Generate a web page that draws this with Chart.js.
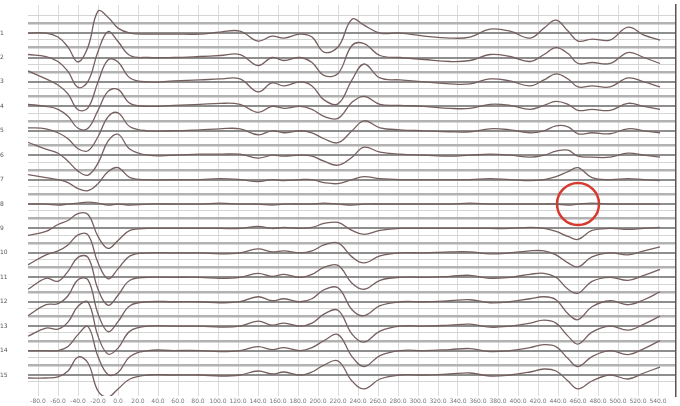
<!DOCTYPE html>
<html><head><meta charset="utf-8">
<script src="https://cdn.jsdelivr.net/npm/chart.js@4/dist/chart.umd.min.js"></script>
<style>html,body{margin:0;padding:0;background:#fff}#wrap{width:680px;height:406px}</style>
</head><body><div id="wrap"><canvas id="c"></canvas></div>
<script>
// sample times (ms)
const times = [-90,-72,-60,-50,-40,-30,-20,-10,0,12,30,56,82,102,122,140,154,166,182,194,206,220,234,246,262,282,306,332,352,372,392,412,426,438,450,460,474,492,510,526,542];
// x tick labels (ms)
const xTickValues = [-80,-60,-40,-20,0,20,40,60,80,100,120,140,160,180,200,220,240,260,280,300,320,340,360,380,400,420,440,460,480,500,520,540];
// channel labels (top to bottom)
const channelNames = ['1','2','3','4','5','6','7','8','9','10','11','12','13','14','15'];
// deflections (µV-like units, up positive)
const ch1  = [0,0,-4,-14,-29,-14,22,16,5,0,-1,-1,-1,1,2,-8,-3,-5,-1,-4,-19,-14,14,8,0,0,-3,-5,-4,4,2,-5,5,13,2,-8,-6,-7,6,-2,-7];
const ch2  = [3,1,-4,-14,-30,-24,6,26,16,2,0,0,1,2,3,-8,0,-3,0,-5,-18,-16,12,14,2,0,-2,-4,-3,3,1,-4,3,10,4,-6,-5,-6,5,0,-6];
const ch3  = [11,3,-3,-12,-28,-26,0,22,20,4,0,1,2,3,3,-10,-1,-4,0,-4,-18,-22,2,18,4,2,0,-2,-2,3,1,-4,2,8,3,-5,-4,-5,4,0,-5];
const ch4  = [2,0,-3,-10,-22,-22,-4,15,17,3,0,1,2,3,2,-6,0,-2,0,-3,-10,-12,4,10,2,1,0,-2,-2,2,1,-3,1,5,2,-4,-3,-4,3,0,-3];
const ch5  = [3,2,-2,-8,-18,-20,-6,14,18,4,0,0,1,2,2,-4,0,-2,0,-2,-8,-12,0,10,3,1,0,-1,-1,2,1,-2,0,5,4,-3,-2,-3,2,0,-2];
const ch6  = [13,6,2,-6,-16,-20,-8,14,21,6,0,0,1,1,1,-3,0,-1,0,-1,-6,-10,-2,8,3,1,0,-1,0,1,0,-2,0,4,5,-1,-2,-2,2,0,-2];
const ch7  = [5,2,0,-3,-9,-11,-4,8,12,2,0,0,0,1,0,-2,0,-1,0,0,-3,-4,0,3,1,0,0,0,0,1,0,-1,0,3,8,12,2,0,1,0,-1];
const ch8  = [0,0,-1,0,1,2,1,-1,0,-1,0,0,0,1,0,0,-1,0,0,0,1,0,-1,0,0,0,0,0,1,0,0,0,0,0,-1,0,1,0,0,0,0];
const ch9  = [-7,-3,4,8,15,14,-8,-20,-12,-2,0,0,0,0,0,2,0,1,0,1,5,6,-2,-6,-2,0,0,0,0,0,0,1,0,-3,-8,-11,-2,0,-1,0,1];
const ch10 = [-12,-2,2,8,18,18,-10,-26,-16,-3,0,0,0,-1,0,4,1,2,0,2,8,10,-4,-10,-3,0,0,1,1,-1,0,2,2,-2,-10,-14,-4,0,-2,2,6];
const ch11 = [-12,-1,-4,6,20,20,-12,-28,-18,-3,0,0,0,-1,0,4,1,3,0,3,10,12,-6,-12,-3,0,0,1,2,-1,0,3,4,0,-12,-16,-4,0,-3,2,8];
const ch12 = [-14,-3,-2,6,22,22,-12,-30,-20,-4,0,0,0,-1,0,5,1,3,0,3,12,14,-8,-14,-4,0,0,1,2,-1,0,3,5,2,-12,-18,-5,1,-3,2,10];
const ch13 = [-10,-2,-3,4,20,24,-10,-28,-22,-5,0,0,0,-1,0,5,1,3,0,3,12,16,-8,-16,-5,0,0,1,2,-1,0,3,6,3,-10,-18,-6,0,-4,2,10];
const ch14 = [0,0,0,4,16,24,-6,-24,-22,-6,0,0,0,-1,0,4,1,3,0,3,10,16,-6,-16,-5,0,0,1,2,-1,0,3,6,4,-8,-16,-6,0,-4,2,10];
const ch15 = [-3,-3,-2,4,18,12,-16,-22,-14,-4,0,0,0,-1,0,4,1,3,0,3,10,14,-6,-14,-4,0,0,1,2,-1,0,3,6,4,-6,-14,-6,0,-4,2,8];
// highlighted spot (time ms, channel number)
const highlightTimes = [460];
const highlightChannels = [8];

const channels = [ch1,ch2,ch3,ch4,ch5,ch6,ch7,ch8,ch9,ch10,ch11,ch12,ch13,ch14,ch15];
const unitsPerChannel = 24.5;
const baseOf = i => 16 - (i + 1);

const datasets = channels.map((vals, i) => ({
  label: channelNames[i],
  data: times.map((t, k) => ({x: t, y: baseOf(i) + vals[k] / unitsPerChannel})),
  borderColor: '#76605f',
  borderWidth: 1.3,
  pointRadius: 0,
  tension: 0.4,
  fill: false
}));
datasets.push({
  type: 'scatter',
  label: 'highlight',
  data: highlightTimes.map((t, k) => ({x: t, y: baseOf(highlightChannels[k] - 1)})),
  pointStyle: 'circle',
  pointRadius: 21,
  pointBorderWidth: 2.5,
  pointBorderColor: '#d8392e',
  pointBackgroundColor: 'rgba(0,0,0,0)',
  showLine: false,
  clip: false
});

// horizontal grid layout per channel
const gridTicks = [], gridKinds = [];
for (let i = 0; i < channels.length; i++) {
  const b = baseOf(i);
  gridTicks.push(b + 0.72); gridKinds.push('light');
  gridTicks.push(b + 0.4); gridKinds.push('band');
  gridTicks.push(b); gridKinds.push('base');
  gridTicks.push(b - 0.28); gridKinds.push('light');
}
const order = gridTicks.map((v, k) => k).sort((a, b) => gridTicks[a] - gridTicks[b]);
const sortedTicks = order.map(k => gridTicks[k]);
const sortedKinds = order.map(k => gridKinds[k]);

Chart.defaults.font.family = 'DejaVu Sans';
new Chart(document.getElementById('c'), {
  type: 'line',
  data: {datasets},
  options: {
    responsive: true, maintainAspectRatio: false, animation: false,
    layout: {autoPadding: false, padding: {left: 0, right: 2, top: 5, bottom: 0}},
    plugins: {legend: {display: false}, tooltip: {enabled: false}},
    scales: {
      x: {
        type: 'linear', min: -90, max: 558,
        ticks: {color: '#777', font: {size: 6}, padding: 2,
          maxRotation: 0, minRotation: 0, autoSkip: false,
          callback: v => v.toFixed(1)},
        afterBuildTicks: s => { s.ticks = xTickValues.map(v => ({value: v})); },
        grid: {color: '#dcdcdc', lineWidth: 1, drawTicks: false},
        border: {display: false},
        afterFit: s => { s.height = 10; s.paddingLeft = 0; s.paddingRight = 0; }
      },
      y: {
        type: 'linear', min: 0.14, max: 16.15,
        afterBuildTicks: s => { s.ticks = sortedTicks.map(v => ({value: v})); },
        ticks: {autoSkip: false, color: '#555', font: {size: 6}, padding: 4, crossAlign: 'far',
          callback: (v, idx) => {
            if (sortedKinds[idx] !== 'base') return '';
            const ch = 16 - Math.round(v);
            return channelNames[ch - 1];
          }},
        grid: {
          drawTicks: false,
          color: ctx => ({base: '#8e8e8e', band: '#b2b2b2', light: '#d4d4d4'})[sortedKinds[ctx.index]] || '#ddd',
          lineWidth: ctx => ({base: 2, band: 2.5, light: 1})[sortedKinds[ctx.index]] || 1
        },
        border: {display: false},
        afterFit: s => { s.width = 28; s.paddingTop = 0; s.paddingBottom = 0; }
      },
      yr: {
        position: 'right', min: 0.14, max: 16.15,
        ticks: {display: false}, grid: {display: false, drawTicks: false},
        border: {display: true, color: '#555', width: 1.5},
        afterFit: s => { s.width = 2; s.paddingTop = 0; s.paddingBottom = 0; }
      }
    }
  }
});
</script></body></html>
